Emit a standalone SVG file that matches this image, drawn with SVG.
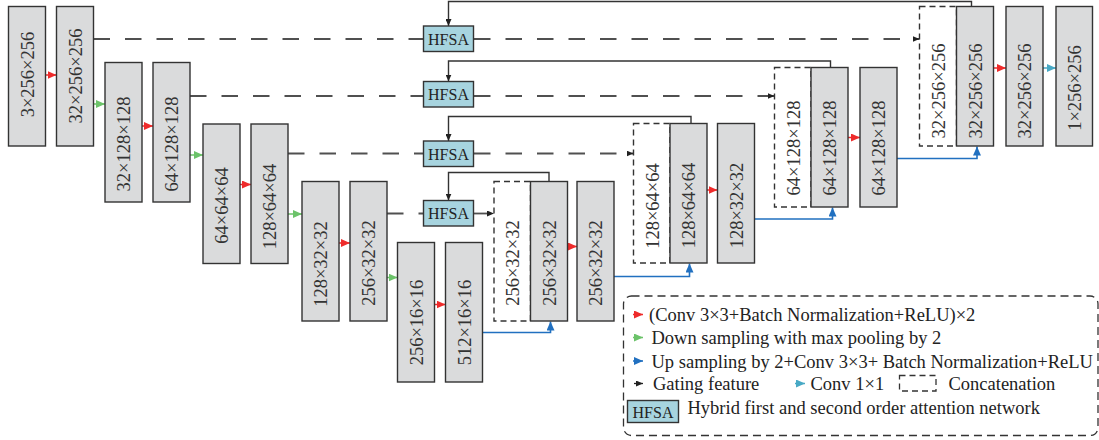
<svg xmlns="http://www.w3.org/2000/svg" width="1099" height="440" viewBox="0 0 1099 440">
<defs>
<style>
.box{fill:#dadbdc;stroke:#333;stroke-width:1.4}
.cat{fill:#fff;stroke:#333;stroke-width:1.4;stroke-dasharray:6 4}
.hf{fill:#a7d4df;stroke:#333;stroke-width:1.4}
.lbl{font-family:"Liberation Serif","Times New Roman",serif;font-size:18.5px;fill:#333;text-anchor:middle}
.hft{font-family:"Liberation Serif","Times New Roman",serif;font-size:16px;fill:#222;text-anchor:middle}
.lg{font-family:"Liberation Serif","Times New Roman",serif;font-size:18.5px;fill:#222}
.skip{fill:none;stroke:#505050;stroke-width:1.8;stroke-dasharray:16.5 15}
.gate{fill:none;stroke:#333;stroke-width:1.4}
.red{fill:none;stroke:#ee2b2b;stroke-width:1.5;marker-end:url(#mr)}
.grn{fill:none;stroke:#6cc36a;stroke-width:1.5;marker-end:url(#mg)}
.blu{fill:none;stroke:#2170c0;stroke-width:1.6}
.cya{fill:none;stroke:#48a9c5;stroke-width:1.5;marker-end:url(#mc)}
</style>
<marker id="mr" markerUnits="userSpaceOnUse" markerWidth="9" markerHeight="8" refX="9" refY="4" orient="auto"><path d="M0,0 L9,4 L0,8 z" fill="#ee2b2b"/></marker>
<marker id="mg" markerUnits="userSpaceOnUse" markerWidth="9" markerHeight="8" refX="9" refY="4" orient="auto"><path d="M0,0 L9,4 L0,8 z" fill="#6cc36a"/></marker>
<marker id="mb" markerUnits="userSpaceOnUse" markerWidth="9" markerHeight="8" refX="9" refY="4" orient="auto"><path d="M0,0 L9,4 L0,8 z" fill="#2170c0"/></marker>
<marker id="mc" markerUnits="userSpaceOnUse" markerWidth="9" markerHeight="8" refX="9" refY="4" orient="auto"><path d="M0,0 L9,4 L0,8 z" fill="#48a9c5"/></marker>
<marker id="mk" markerUnits="userSpaceOnUse" markerWidth="7" markerHeight="6" refX="7" refY="3" orient="auto"><path d="M0,0 L7,3 L0,6 z" fill="#222"/></marker>
</defs>
<rect width="1099" height="440" fill="#fff"/>

<g id="connectors">
<path class="skip" d="M93.5,39 H423.5"/>
<path class="skip" d="M474,39 H919.5" marker-end="url(#mk)"/>
<path class="skip" d="M190,96 H423.5"/>
<path class="skip" d="M474,96 H774.5" marker-end="url(#mk)"/>
<path class="skip" d="M288,153.5 H423.5"/>
<path class="skip" d="M474,153.5 H633.5" marker-end="url(#mk)"/>
<path class="skip" d="M387,213.5 H423.5"/>
<path class="skip" d="M474,213.5 H494" marker-end="url(#mk)"/>
<path class="gate" d="M971.5,6.5 V1.5 H448.5 V26" marker-end="url(#mk)"/>
<path class="gate" d="M830.5,67.5 V61 H448.5 V81.5" marker-end="url(#mk)"/>
<path class="gate" d="M691,123.5 V116.5 H448.5 V141" marker-end="url(#mk)"/>
<path class="gate" d="M549,181.5 V172.5 H448.5 V200.5" marker-end="url(#mk)"/>
<path class="red" d="M45.5,75 H56.5"/>
<path class="red" d="M141.5,126 H153"/>
<path class="red" d="M240,184.5 H251"/>
<path class="red" d="M339,243 H350"/>
<path class="red" d="M434.5,304.5 H445.5"/>
<path class="red" d="M567.5,246.5 H577"/>
<path class="red" d="M706.5,190 H717.5"/>
<path class="red" d="M848,137.5 H860"/>
<path class="red" d="M993.5,68 H1006"/>
<path class="cya" d="M1043,68 H1056"/>
<path class="grn" d="M93.5,104 H105"/>
<path class="grn" d="M190,155 H203"/>
<path class="grn" d="M288,214 H302"/>
<path class="grn" d="M387,277.5 H397.5"/>
<path class="blu" d="M482.5,332.5 H550.5 V321.5" marker-end="url(#mb)"/>
<path class="blu" d="M614,276.5 H689.5 V263.5" marker-end="url(#mb)"/>
<path class="blu" d="M754.5,219 H832.5 V207.5" marker-end="url(#mb)"/>
<path class="blu" d="M897,158.5 H977 V146.5" marker-end="url(#mb)"/>
</g>

<g id="e0a"><rect class="box" x="8.5" y="6.5" width="37" height="139.5"/><text class="lbl" transform="translate(33.5,74.5) rotate(-90)">3×256×256</text></g>
<g id="e0b"><rect class="box" x="56.5" y="6.5" width="37" height="139.5"/><text class="lbl" transform="translate(81.5,76) rotate(-90)">32×256×256</text></g>
<g id="e1a"><rect class="box" x="105" y="62.5" width="37" height="139.5"/><text class="lbl" transform="translate(130,144) rotate(-90)">32×128×128</text></g>
<g id="e1b"><rect class="box" x="153" y="62.5" width="37" height="139.5"/><text class="lbl" transform="translate(178,144) rotate(-90)">64×128×128</text></g>
<g id="e2a"><rect class="box" x="203" y="124" width="37" height="139.5"/><text class="lbl" transform="translate(228,205.5) rotate(-90)">64×64×64</text></g>
<g id="e2b"><rect class="box" x="251" y="124" width="37" height="139.5"/><text class="lbl" transform="translate(276,206.5) rotate(-90)">128×64×64</text></g>
<g id="e3a"><rect class="box" x="302" y="181.5" width="37" height="139.5"/><text class="lbl" transform="translate(327,264) rotate(-90)">128×32×32</text></g>
<g id="e3b"><rect class="box" x="350" y="181.5" width="37" height="139.5"/><text class="lbl" transform="translate(375,263) rotate(-90)">256×32×32</text></g>
<g id="e4a"><rect class="box" x="397.5" y="242.5" width="37" height="139.5"/><text class="lbl" transform="translate(422.5,322.5) rotate(-90)">256×16×16</text></g>
<g id="e4b"><rect class="box" x="445.5" y="242.5" width="37" height="139.5"/><text class="lbl" transform="translate(470.5,322.5) rotate(-90)">512×16×16</text></g>

<g id="d3c"><rect class="cat" x="494" y="181.5" width="36.5" height="139.5"/><text class="lbl" transform="translate(519,263) rotate(-90)">256×32×32</text></g>
<g id="d3a"><rect class="box" x="530.5" y="181.5" width="37" height="139.5"/><text class="lbl" transform="translate(555.5,263) rotate(-90)">256×32×32</text></g>
<g id="d3b"><rect class="box" x="577" y="181.5" width="37" height="139.5"/><text class="lbl" transform="translate(602,263) rotate(-90)">256×32×32</text></g>
<g id="d2c"><rect class="cat" x="633.5" y="123.5" width="36.5" height="139.5"/><text class="lbl" transform="translate(658.5,206) rotate(-90)">128×64×64</text></g>
<g id="d2a"><rect class="box" x="670" y="123.5" width="37" height="139.5"/><text class="lbl" transform="translate(695,205.5) rotate(-90)">128×64×64</text></g>
<g id="d2b"><rect class="box" x="717.5" y="123.5" width="37" height="139.5"/><text class="lbl" transform="translate(742.5,205.5) rotate(-90)">128×32×32</text></g>
<g id="d1c"><rect class="cat" x="774.5" y="67.5" width="36.5" height="139.5"/><text class="lbl" transform="translate(799.5,148) rotate(-90)">64×128×128</text></g>
<g id="d1a"><rect class="box" x="811" y="67.5" width="37" height="139.5"/><text class="lbl" transform="translate(836,148) rotate(-90)">64×128×128</text></g>
<g id="d1b"><rect class="box" x="860" y="67.5" width="37" height="139.5"/><text class="lbl" transform="translate(885,148) rotate(-90)">64×128×128</text></g>
<g id="d0c"><rect class="cat" x="919.5" y="6.5" width="37" height="139.5"/><text class="lbl" transform="translate(944.5,91) rotate(-90)">32×256×256</text></g>
<g id="d0a"><rect class="box" x="956.5" y="6.5" width="37" height="139.5"/><text class="lbl" transform="translate(981.5,91) rotate(-90)">32×256×256</text></g>
<g id="d0b"><rect class="box" x="1006" y="6.5" width="37" height="139.5"/><text class="lbl" transform="translate(1031,91) rotate(-90)">32×256×256</text></g>
<g id="d0d"><rect class="box" x="1056" y="6.5" width="36.5" height="139.5"/><text class="lbl" transform="translate(1080.5,88) rotate(-90)">1×256×256</text></g>

<g id="hfsa0"><rect class="hf" x="423.5" y="26" width="50" height="25.5"/><text class="hft" x="448.5" y="44.5">HFSA</text></g>
<g id="hfsa1"><rect class="hf" x="423.5" y="81.5" width="50" height="25.5"/><text class="hft" x="448.5" y="100">HFSA</text></g>
<g id="hfsa2"><rect class="hf" x="423.5" y="141" width="50" height="25.5"/><text class="hft" x="448.5" y="159.5">HFSA</text></g>
<g id="hfsa3"><rect class="hf" x="423.5" y="200.5" width="50" height="25.5"/><text class="hft" x="448.5" y="219">HFSA</text></g>

<g id="legend">
<rect x="623.5" y="296" width="474.5" height="139.5" rx="8" fill="none" stroke="#333" stroke-width="1.3" stroke-dasharray="8 5"/>
<path d="M633,314.5 H643" fill="none" stroke="#ee2b2b" stroke-width="1.5" marker-end="url(#mr)"/>
<text class="lg" x="649" y="320.5">(Conv 3×3+Batch Normalization+ReLU)×2</text>
<path d="M633,337.5 H643" fill="none" stroke="#6cc36a" stroke-width="1.5" marker-end="url(#mg)"/>
<text class="lg" x="651.5" y="343.5">Down sampling with max pooling by 2</text>
<path d="M633,361 H643" fill="none" stroke="#2170c0" stroke-width="1.5" marker-end="url(#mb)"/>
<text class="lg" x="651.5" y="367.5">Up sampling by 2+Conv 3×3+ Batch Normalization+ReLU</text>
<path d="M634,383.5 H643" fill="none" stroke="#222" stroke-width="1.3" marker-end="url(#mk)"/>
<text class="lg" x="653" y="389.5">Gating feature</text>
<path d="M795,383.5 H805" fill="none" stroke="#48a9c5" stroke-width="1.5" marker-end="url(#mc)"/>
<text class="lg" x="810.5" y="389.5">Conv 1×1</text>
<rect x="899.5" y="375.5" width="36.5" height="15.5" fill="none" stroke="#333" stroke-width="1.3" stroke-dasharray="6 4"/>
<text class="lg" x="948.5" y="389.5">Concatenation</text>
<rect class="hf" x="627.5" y="400.5" width="51" height="22"/>
<text class="hft" x="653" y="417.5">HFSA</text>
<text class="lg" x="687.5" y="413.5">Hybrid first and second order attention network</text>
</g>
</svg>
